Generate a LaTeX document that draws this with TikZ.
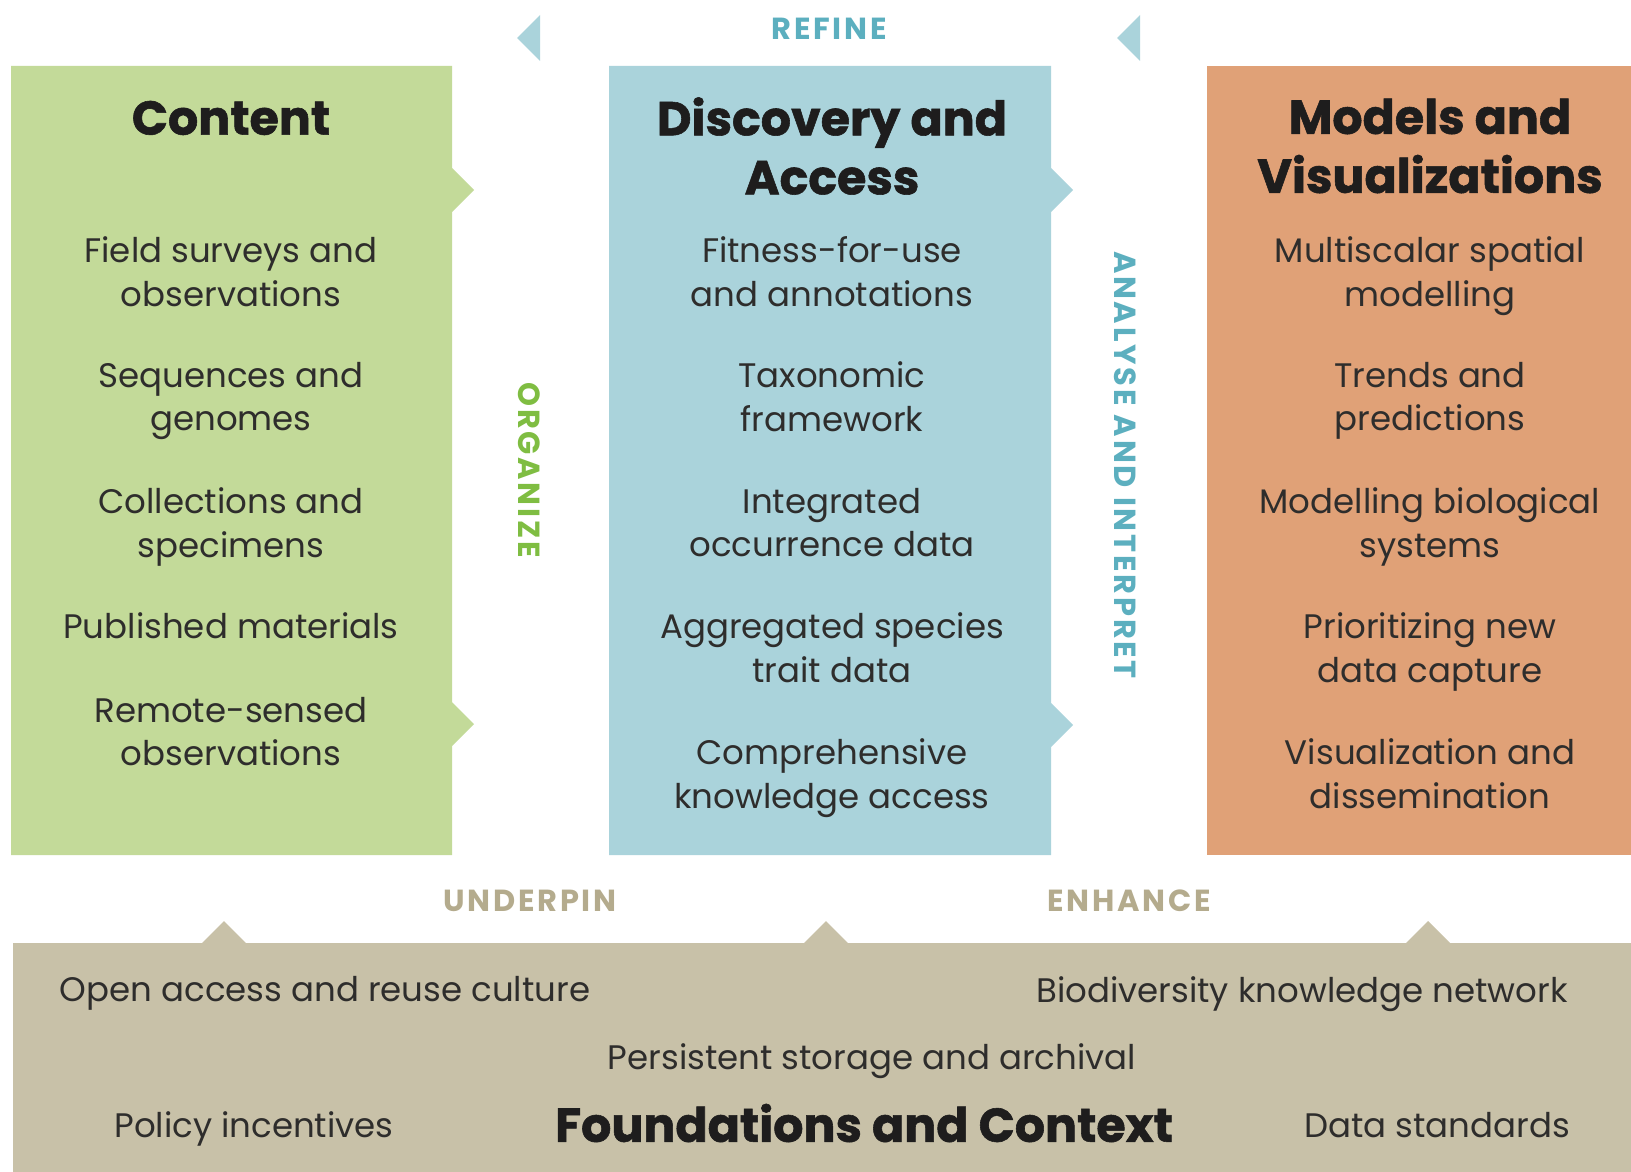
\documentclass[tikz,border=0pt]{standalone}
\usepackage{fontspec}
\setmainfont{Poppins}
\definecolor{greenbox}{HTML}{C3DA99}
\definecolor{bluebox}{HTML}{AAD3DB}
\definecolor{orangebox}{HTML}{E0A177}
\definecolor{khakiband}{HTML}{C8C1A8}
\definecolor{greenlbl}{HTML}{7FBD42}
\definecolor{teallbl}{HTML}{5CAFBF}
\definecolor{khakilbl}{HTML}{B4AB8D}
\definecolor{bodytext}{HTML}{2E2D2C}
\definecolor{titletext}{HTML}{1E1D1D}
\tikzset{
  item/.style={align=center, text=bodytext, inner sep=0pt, font=\fontsize{34}{43.7}\selectfont,
    execute at begin node={\vphantom{Agld}}, execute at end node={\vphantom{gyp}}},
  ttl/.style={align=center, text=titletext, inner sep=0pt, font=\fontsize{47.5}{59}\selectfont\bfseries\addfontfeatures{FakeBold=1.2}},
  lbl/.style={inner sep=0pt, font=\fontsize{30.5}{36}\selectfont\bfseries\addfontfeatures{LetterSpace=9}},
}
\begin{document}
\begin{tikzpicture}[x=1pt,y=-1pt]
\useasboundingbox (0,0) rectangle (1631,1172);
% boxes
\fill[greenbox] (11,66) -- (452,66) -- (452,168) -- (474,190) -- (452,212) -- (452,702) -- (474,724) -- (452,746) -- (452,855) -- (11,855) -- cycle;
\fill[bluebox] (609,66) -- (1051,66) -- (1051,168) -- (1073,190) -- (1051,212) -- (1051,703) -- (1073,725) -- (1051,747) -- (1051,855) -- (609,855) -- cycle;
\fill[orangebox] (1207,66) rectangle (1631,855);
\fill[khakiband] (13,943) -- (202,943) -- (224,921) -- (246,943) -- (804,943) -- (826,921) -- (848,943) -- (1406,943) -- (1428,921) -- (1450,943) -- (1631,943) -- (1631,1172) -- (13,1172) -- cycle;
\fill[bluebox] (540,15) -- (517,38) -- (540,61) -- cycle;
\fill[bluebox] (1140,15) -- (1117,38) -- (1140,61) -- cycle;
% labels
\node[lbl, text=teallbl] (refine) at (829,29) {REFINE};
\node[lbl, text=greenlbl, rotate=-90] (organize) at (529,470) {ORGANIZE};
\node[lbl, text=teallbl, rotate=-90] (analyse) at (1125,465) {ANALYSE AND INTERPRET};
\node[lbl, text=khakilbl] (underpin) at (530,901) {UNDERPIN};
\node[lbl, text=khakilbl] (enhance) at (1129,901) {ENHANCE};
% content column
\node[ttl] (t1) at (231,118) {Content};
\node[item] (c1) at (231,276) {Field surveys and\\observations};
\node[item] (c2) at (231,401) {Sequences and\\genomes};
\node[item] (c3) at (231,527) {Collections and\\specimens};
\node[item] (c4) at (231,630) {Published materials};
\node[item] (c5) at (231,736) {Remote-sensed\\observations};
% discovery column
\node[ttl] (t2) at (832,146) {Discovery and\\Access};
\node[item] (d1) at (832,276) {Fitness-for-use\\and annotations};
\node[item] (d2) at (832,401) {Taxonomic\\framework};
\node[item] (d3) at (832,527) {Integrated\\occurrence data};
\node[item] (d4) at (832,652) {Aggregated species\\trait data};
\node[item] (d5) at (832,778) {Comprehensive\\knowledge access};
% models column
\node[ttl] (t3) at (1430,146) {Models and\\Visualizations};
\node[item] (m1) at (1430,276) {Multiscalar spatial\\modelling};
\node[item] (m2) at (1430,401) {Trends and\\predictions};
\node[item] (m3) at (1430,527) {Modelling biological\\systems};
\node[item] (m4) at (1430,652) {Prioritizing new\\data capture};
\node[item] (m5) at (1430,778) {Visualization and\\dissemination};
% foundations
\node[item] (f1) at (325,994) {Open access and reuse culture};
\node[item] (f2) at (1302,994) {Biodiversity knowledge network};
\node[item] (f3) at (872,1061) {Persistent storage and archival};
\node[item] (f4) at (254,1129) {Policy incentives};
\node[ttl] (t4) at (864,1123) {Foundations and Context};
\node[item] (f5) at (1437,1129) {Data standards};
\end{tikzpicture}
\end{document}
